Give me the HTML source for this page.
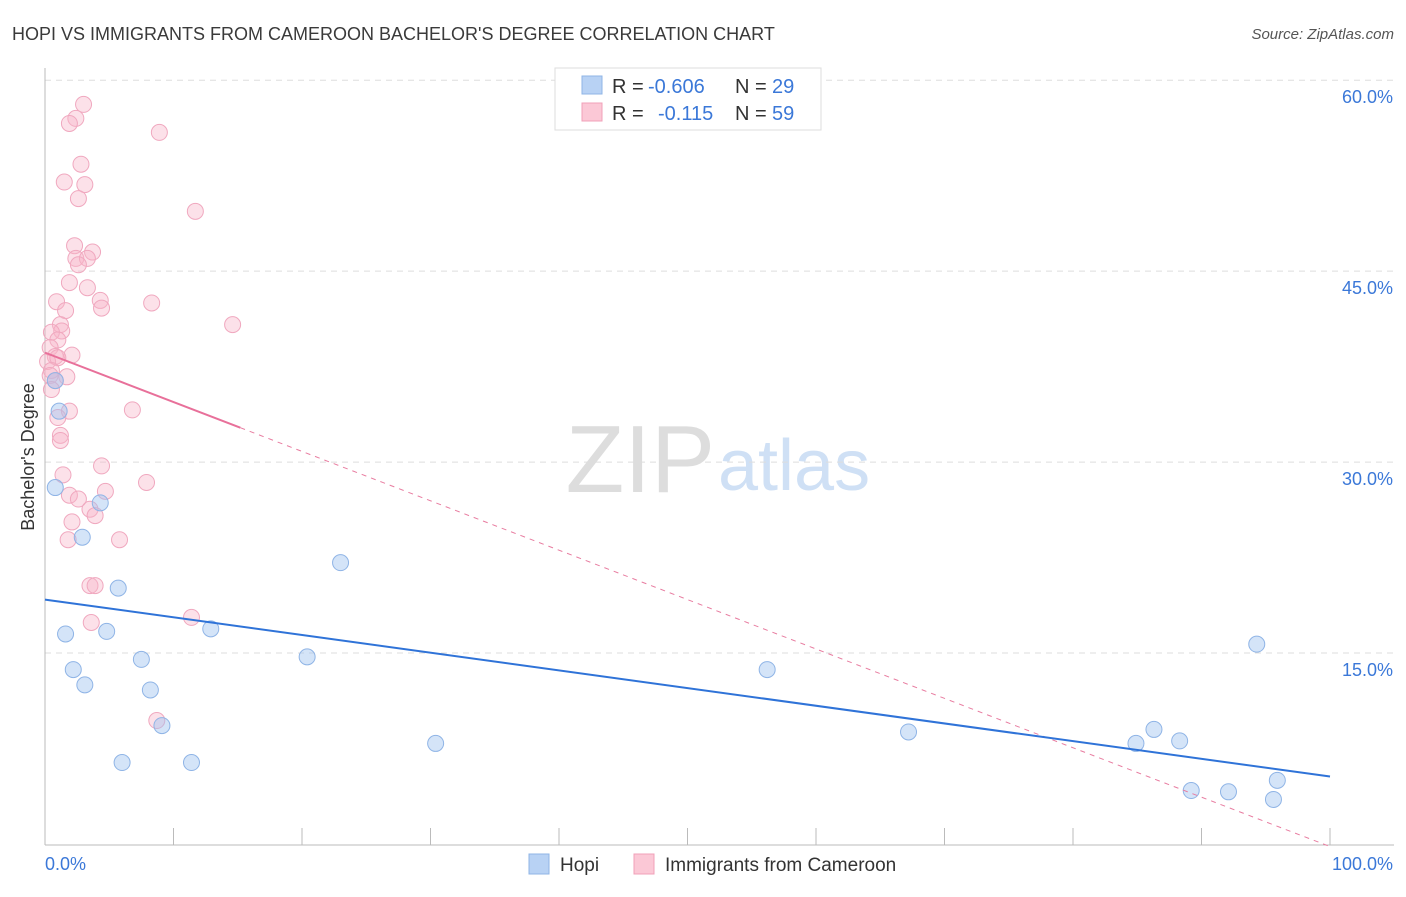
<!DOCTYPE html>
<html><head><meta charset="utf-8"><style>
body{margin:0;background:#fff;font-family:"Liberation Sans",sans-serif;}
svg text{font-family:"Liberation Sans",sans-serif;}
</style></head><body>
<svg id="chart" width="1406" height="892">
<text x="12" y="40" font-size="18" fill="#3a3a3a">HOPI VS IMMIGRANTS FROM CAMEROON BACHELOR'S DEGREE CORRELATION CHART</text>
<text x="1394" y="39" font-size="15" fill="#555" text-anchor="end" font-style="italic">Source: ZipAtlas.com</text>
<text x="715" y="492" font-size="96" fill="#ddd" text-anchor="end" font-family="Liberation Serif">ZIP</text>
<text x="718" y="490" font-size="72" fill="#cfe0f5">atlas</text>
<g id="grid"></g>
<g id="axes"></g>
<g id="marks"></g>
<text transform="translate(34,457) rotate(-90)" font-size="18" fill="#333" text-anchor="middle">Bachelor's Degree</text>
<g>
<rect x="555" y="68" width="266" height="62" fill="#fff" stroke="#ddd"/>
<rect x="582" y="76" width="20" height="18" fill="#b8d2f4" stroke="#8fb4e6"/>
<rect x="582" y="103" width="20" height="18" fill="#fbc8d6" stroke="#f0a0b8"/>
<text x="612" y="93" font-size="20" fill="#333">R =</text>
<text x="648" y="93" font-size="20" fill="#3b78d8">-0.606</text>
<text x="735" y="93" font-size="20" fill="#333">N =</text>
<text x="772" y="93" font-size="20" fill="#3b78d8">29</text>
<text x="612" y="120" font-size="20" fill="#333">R =</text>
<text x="658" y="120" font-size="20" fill="#3b78d8">-0.115</text>
<text x="735" y="120" font-size="20" fill="#333">N =</text>
<text x="772" y="120" font-size="20" fill="#3b78d8">59</text>
</g>
<g>
<rect x="529" y="854" width="20" height="20" fill="#b8d2f4" stroke="#8fb4e6"/>
<text x="560" y="871" font-size="19" fill="#333">Hopi</text>
<rect x="634" y="854" width="20" height="20" fill="#fbc8d6" stroke="#f0a0b8"/>
<text x="665" y="871" font-size="19" fill="#333">Immigrants from Cameroon</text>
</g>
</svg>
<script>
const hopiX=[1.1,0.8,4.3,2.9,5.7,1.6,4.8,12.9,2.2,7.5,3.1,8.2,9.1,6.0,11.4,20.4,23.0,30.4,56.2,67.2,84.9,86.3,88.3,89.2,92.1,94.3,95.9,95.6,0.8];
const hopiY=[34.0,28.0,26.8,24.1,20.1,16.5,16.7,16.9,13.7,14.5,12.5,12.1,9.3,6.4,6.4,14.7,22.1,7.9,13.7,8.8,7.9,9.0,8.1,4.2,4.1,15.7,5.0,3.5,36.4];
const camX=[3.0,2.4,1.9,8.9,2.8,1.5,3.1,2.6,11.7,2.3,3.7,2.4,3.3,2.6,1.9,3.3,0.9,4.3,8.3,4.4,1.6,14.6,1.2,1.3,0.5,1.0,0.4,2.1,0.8,0.2,1.0,0.5,0.4,1.7,0.8,0.5,1.9,6.8,1.0,1.2,1.2,4.4,1.4,7.9,4.7,1.9,2.6,3.5,3.9,2.1,1.8,5.8,3.5,3.9,11.4,3.6,8.7];
const camY=[58.1,57.0,56.6,55.9,53.4,52.0,51.8,50.7,49.7,47.0,46.5,46.0,46.0,45.5,44.1,43.7,42.6,42.7,42.5,42.1,41.9,40.8,40.8,40.3,40.2,39.6,39.0,38.4,38.3,37.9,38.2,37.2,36.8,36.7,36.4,35.7,34.0,34.1,33.5,32.1,31.7,29.7,29.0,28.4,27.7,27.4,27.1,26.3,25.8,25.3,23.9,23.9,20.3,20.3,17.8,17.4,9.7];
const yTicks=[15,30,45,60];
const yTickLabels=["15.0%","30.0%","45.0%","60.0%"];
const hopiTrend=[19.2,5.3];
const camTrend=[38.6,-0.2];
const camSolidEnd=15.2;
const xs=v=>45+v*12.85, ys=v=>844-v*12.73;
const NS="http://www.w3.org/2000/svg";
function mk(tag,attrs,parent){const e=document.createElementNS(NS,tag);for(const k in attrs)e.setAttribute(k,attrs[k]);document.getElementById(parent).appendChild(e);return e;}
yTicks.forEach((t,i)=>{
 const l=mk('line',{x1:45,x2:1394,y1:ys(t),y2:ys(t),stroke:'#ddd','stroke-dasharray':'6,5'},'grid');
 
 
 const tx=mk('text',{x:1393,y:ys(t)+23,'font-size':18,fill:'#3b78d8','text-anchor':'end'},'axes');
 tx.textContent=yTickLabels[i];
 
 
});
const ax=mk('line',{x1:45,x2:1394,y1:845,y2:845,stroke:'#bbb'},'axes');


const ay=mk('line',{x1:45,x2:45,y1:68,y2:845,stroke:'#bbb'},'axes');


for(let i=0;i<=10;i++){const t=mk('line',{x1:xs(i*10),x2:xs(i*10),y1:828,y2:845,stroke:'#bbb'},'axes');
 
 }
const x0=mk('text',{x:45,y:870,'font-size':18,fill:'#3b78d8'},'axes');x0.textContent='0.0%';


const x1=mk('text',{x:1393,y:870,'font-size':18,fill:'#3b78d8','text-anchor':'end'},'axes');x1.textContent='100.0%';


camX.forEach((x,i)=>{const c=mk('circle',{cx:xs(x),cy:ys(camY[i]),r:8,fill:'rgba(248,180,200,0.4)',stroke:'#f0a8bf','stroke-width':1},'marks');
 
 });
hopiX.forEach((x,i)=>{const c=mk('circle',{cx:xs(x),cy:ys(hopiY[i]),r:8,fill:'rgba(160,195,240,0.45)',stroke:'#8fb4e6','stroke-width':1},'marks');
 
 });
const camAt=x=>camTrend[0]+(camTrend[1]-camTrend[0])*x/100;
const cd=mk('line',{x1:xs(camSolidEnd),y1:ys(camAt(camSolidEnd)),x2:xs(100),y2:ys(camAt(100)),stroke:'#e87ca0','stroke-dasharray':'5,5','stroke-width':1},'marks');


const cs=mk('line',{x1:xs(0),y1:ys(camTrend[0]),x2:xs(camSolidEnd),y2:ys(camAt(camSolidEnd)),stroke:'#e8709a','stroke-width':2},'marks');


const hl=mk('line',{x1:xs(0),y1:ys(hopiTrend[0]),x2:xs(100),y2:ys(hopiTrend[1]),stroke:'#2f73d8','stroke-width':2},'marks');


</script>
</body></html>
